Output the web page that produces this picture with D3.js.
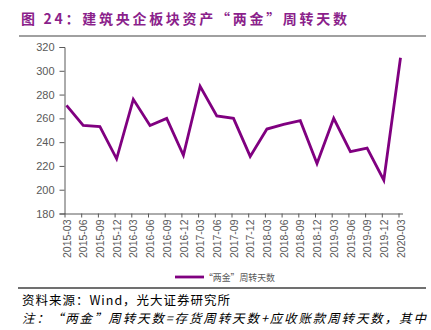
<!DOCTYPE html>
<html>
<head>
<meta charset="utf-8">
<script src="https://cdn.jsdelivr.net/npm/d3@7"></script>
<style>
  html, body { margin: 0; padding: 0; background: #fff; }
  svg { display: block; }
</style>
</head>
<body>
<svg id="chart" width="431" height="330"></svg>
<script>
// Quarterly periods
const periods = [
  "2015-03","2015-06","2015-09","2015-12",
  "2016-03","2016-06","2016-09","2016-12",
  "2017-03","2017-06","2017-09","2017-12",
  "2018-03","2018-06","2018-09","2018-12",
  "2019-03","2019-06","2019-09","2019-12",
  "2020-03"
];
// "两金" turnover days
const turnoverDays = [
  271, 254, 253, 226,
  276, 254, 260, 229,
  287, 262, 260, 228,
  251, 255, 258, 222,
  260, 232, 235, 208,
  311
];
const yTicks = [180, 200, 220, 240, 260, 280, 300, 320];
const seriesName = "“两金”周转天数";
const titleText = "图 24：建筑央企板块资产“两金”周转天数";
const sourceText = "资料来源：Wind，光大证券研究所";
const noteText = "注：“两金”周转天数=存货周转天数+应收账款周转天数，其中";

const svg = d3.select("#chart");
const cjk = "'Noto Sans CJK SC', 'Noto Sans', sans-serif";
const latin = "'Liberation Sans', Arial, sans-serif";
const axisGray = "#595959";
const purple = "#800080";

// Title and rule
svg.append("text")
  .attr("x", 21).attr("y", 24)
  .attr("font-family", cjk).attr("font-weight", "bold")
  .attr("font-size", 14)
  .attr("textLength", 326).attr("lengthAdjust", "spacing")
  .attr("fill", "#8B1F8B")
  .text(titleText);
svg.append("line")
  .attr("x1", 19).attr("x2", 426).attr("y1", 36).attr("y2", 36)
  .attr("stroke", "#a0a0a0").attr("stroke-width", 2);

// Scales
const x = d3.scalePoint().domain(periods).range([66.5, 400.5]);
const y = d3.scaleLinear().domain([180, 320]).range([213.5, 47]);

// Y axis
const yAxis = svg.append("g")
  .attr("transform", "translate(64.5,0)")
  .call(d3.axisLeft(y).tickValues(yTicks).tickSize(5).tickPadding(5));
yAxis.select(".domain").attr("stroke", axisGray);
yAxis.selectAll(".tick line").attr("stroke", axisGray);
yAxis.selectAll(".tick text")
  .attr("font-family", latin).attr("font-size", 11).attr("fill", axisGray);

// X axis
const xAxis = svg.append("g")
  .attr("transform", "translate(0,213.5)")
  .call(d3.axisBottom(x).tickSize(4).tickSizeOuter(0));
xAxis.select(".domain").attr("stroke", axisGray)
  .attr("d", "M64.5,0.5H403");
xAxis.selectAll(".tick line").attr("stroke", axisGray)
  .attr("transform", "translate(-2,0)");
xAxis.selectAll(".tick text")
  .attr("font-family", latin).attr("font-size", 10.5).attr("fill", axisGray)
  .attr("text-anchor", "end")
  .attr("transform", "rotate(-90)")
  .attr("x", -6).attr("y", 0).attr("dy", "0.35em");

// Line
svg.append("path")
  .datum(turnoverDays)
  .attr("fill", "none")
  .attr("stroke", purple)
  .attr("stroke-width", 2.8)
  .attr("stroke-linejoin", "miter")
  .attr("d", d3.line()
    .x((d, i) => x(periods[i]))
    .y(d => y(d)));

// Legend
svg.append("line")
  .attr("x1", 175).attr("x2", 204).attr("y1", 277).attr("y2", 277)
  .attr("stroke", purple).attr("stroke-width", 2.8);
svg.append("text")
  .attr("x", 204).attr("y", 280.5)
  .attr("font-family", cjk).attr("font-size", 9.5)
  .attr("textLength", 71).attr("lengthAdjust", "spacingAndGlyphs")
  .attr("fill", axisGray)
  .text(seriesName);

// Bottom rule and notes
svg.append("line")
  .attr("x1", 18).attr("x2", 426).attr("y1", 288).attr("y2", 288)
  .attr("stroke", "#404040").attr("stroke-width", 1.5);
svg.append("text")
  .attr("x", 22).attr("y", 305)
  .attr("font-family", cjk).attr("font-size", 12.5)
  .attr("textLength", 208).attr("lengthAdjust", "spacing")
  .attr("fill", "#000")
  .text(sourceText);
svg.append("text")
  .attr("x", 22).attr("y", 323)
  .attr("font-family", cjk).attr("font-size", 12.5)
  .attr("textLength", 404).attr("lengthAdjust", "spacing")
  .attr("font-style", "italic")
  .attr("fill", "#000")
  .text(noteText);
</script>
</body>
</html>
